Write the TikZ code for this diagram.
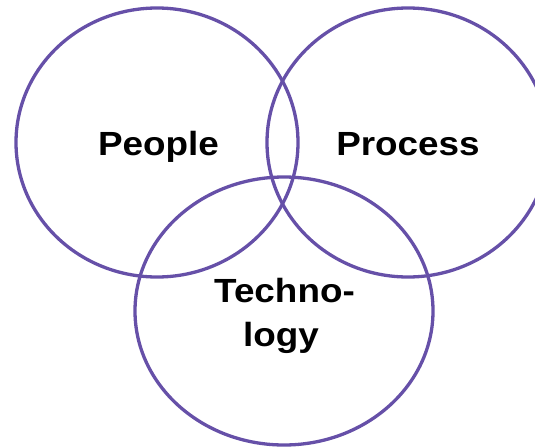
\documentclass[tikz,border=0pt]{standalone}
\usepackage{fontspec}
\setmainfont{Liberation Sans}
\newfontfamily\labelfont[FakeStretch=1.1]{Liberation Sans}
\usetikzlibrary{shapes.geometric}
\definecolor{ring}{RGB}{102,80,168}
\begin{document}
\begin{tikzpicture}[x=1pt,y=-1pt,
  ring/.style={draw=ring, line width=3.3pt, ellipse, inner sep=0pt},
  lbl/.style={font=\labelfont\bfseries\fontsize{33.5}{40}\selectfont, inner sep=0pt, anchor=base, text=black}]
  \useasboundingbox (0,0) rectangle (535,447);
  \begin{scope}
    \clip (0,0) rectangle (535,447);
    % three overlapping rings
    \node[ring, minimum width=282pt, minimum height=269pt] (people) at (157,142.5) {};
    \node[ring, minimum width=282pt, minimum height=269pt] (process) at (408,142.5) {};
    \node[ring, minimum width=298pt, minimum height=268pt] (tech) at (284,311) {};
  \end{scope}
  % labels
  \node[lbl] (peopleL) at (158.5,155) {People};
  \node[lbl] (processL) at (408,155) {Process};
  \node[lbl] (techA) at (284.5,302) {Techno-};
  \node[lbl] (techB) at (281,346) {logy};
\end{tikzpicture}
\end{document}
